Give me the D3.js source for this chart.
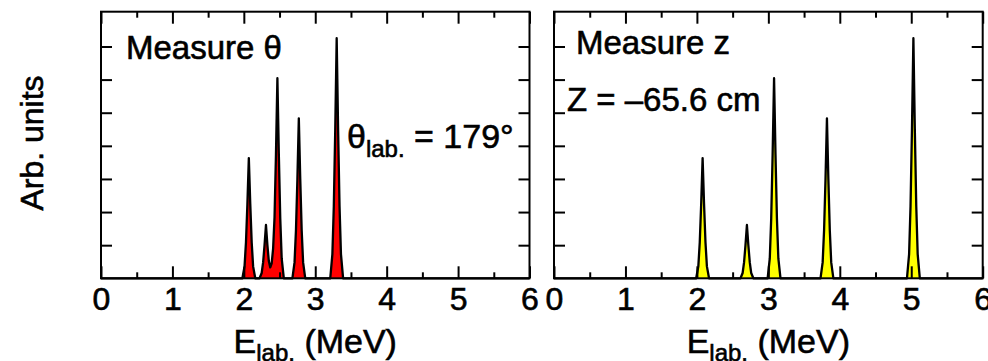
<!DOCTYPE html>
<html>
<head>
<meta charset="utf-8">
<script src="https://cdn.jsdelivr.net/npm/d3@7"></script>
<style>
  html, body { margin: 0; padding: 0; background: #fff; }
  svg { display: block; }
  text { font-family: "Liberation Sans", Arial, Helvetica, sans-serif; fill: #000; stroke: #000; stroke-width: 0.6px; }
</style>
</head>
<body>
<svg id="chart" width="988" height="361"></svg>
<script>
// Energy spectra (arbitrary units) for the two measurement settings
const thetaEnergy = [0.00, 1.98, 2.01, 2.03, 2.05, 2.07, 2.09, 2.11, 2.13, 2.16,
  2.22, 2.25, 2.27, 2.29, 2.31, 2.33, 2.35, 2.37, 2.39, 2.41, 2.43, 2.45, 2.47, 2.49, 2.51, 2.53, 2.56,
  2.68, 2.71, 2.73, 2.75, 2.77, 2.79, 2.81, 2.83, 2.86,
  3.21, 3.24, 3.26, 3.28, 3.30, 3.32, 3.34, 3.36, 3.39, 6.00];
const thetaCounts = [0, 0, 0.36, 1.09, 2.25, 3.63, 2.25, 1.09, 0.36, 0,
  0, 0.16, 0.48, 1.00, 1.61, 1.00, 0.52, 0.33, 0.45, 0.90, 1.85, 3.75, 6.04, 3.75, 1.81, 0.60, 0,
  0, 0.48, 1.45, 3.00, 4.83, 3.00, 1.45, 0.48, 0,
  0, 0.73, 2.18, 4.50, 7.25, 4.50, 2.18, 0.73, 0, 0];

const zEnergy = [0.00, 1.99, 2.02, 2.04, 2.06, 2.08, 2.10, 2.12, 2.14, 2.17,
  2.61, 2.64, 2.66, 2.68, 2.70, 2.72, 2.74, 2.76, 2.79,
  2.99, 3.02, 3.04, 3.06, 3.08, 3.10, 3.12, 3.14, 3.17,
  3.73, 3.76, 3.78, 3.80, 3.82, 3.84, 3.86, 3.88, 3.91,
  4.94, 4.97, 4.99, 5.01, 5.03, 5.05, 5.07, 5.09, 5.12, 6.00];
const zCounts = [0, 0, 0.36, 1.09, 2.25, 3.63, 2.25, 1.09, 0.36, 0,
  0, 0.16, 0.48, 1.00, 1.61, 1.00, 0.48, 0.16, 0,
  0, 0.60, 1.81, 3.75, 6.04, 3.75, 1.81, 0.60, 0,
  0, 0.48, 1.45, 3.00, 4.83, 3.00, 1.45, 0.48, 0,
  0, 0.73, 2.18, 4.50, 7.25, 4.50, 2.18, 0.73, 0, 0];

const xMajorTicks = [0, 1, 2, 3, 4, 5, 6];
const xMinorTicks = [0.5, 1.5, 2.5, 3.5, 4.5, 5.5];
const yTicks = [1, 2, 3, 4, 5, 6, 7];
const xDomain = [0, 6];
const yDomain = [0, 8.05];

const svg = d3.select("#chart");
const plotTop = 11.7, plotBottom = 278.3;

const panels = [
  { x0: 101, x1: 529.5, energy: thetaEnergy, counts: thetaCounts, fill: "#ff0000" },
  { x0: 554, x1: 982.7, energy: zEnergy, counts: zCounts, fill: "#ffff00" }
];

const y = d3.scaleLinear().domain(yDomain).range([plotBottom, plotTop]);

panels.forEach(p => {
  const x = d3.scaleLinear().domain(xDomain).range([p.x0, p.x1]);
  const g = svg.append("g");
  const pts = p.energy.map((e, k) => [e, p.counts[k]]);

  // spectrum fill and outline
  g.append("path")
    .datum(pts)
    .attr("d", d3.area().x(d => x(d[0])).y0(y(0)).y1(d => y(d[1])))
    .attr("fill", p.fill);
  g.append("path")
    .datum(pts)
    .attr("d", d3.line().x(d => x(d[0])).y(d => y(d[1])))
    .attr("fill", "none")
    .attr("stroke", "#000")
    .attr("stroke-width", 2.3)
    .attr("stroke-linejoin", "round");

  const styleAxis = sel => {
    sel.select(".domain").remove();
    sel.selectAll(".tick line").attr("stroke", "#000").attr("stroke-width", 2);
  };

  // bottom axis: major ticks with labels, minor ticks
  g.append("g").attr("transform", `translate(0,${plotBottom})`)
    .call(d3.axisBottom(x).tickValues(xMajorTicks).tickSize(-12).tickPadding(9).tickFormat(d3.format("d")))
    .call(styleAxis)
    .call(s => s.selectAll("text").attr("font-size", 32).attr("font-family", null).attr("fill", null));
  g.append("g").attr("transform", `translate(0,${plotBottom})`)
    .call(d3.axisBottom(x).tickValues(xMinorTicks).tickSize(-6).tickFormat(""))
    .call(styleAxis);
  // top axis
  g.append("g").attr("transform", `translate(0,${plotTop})`)
    .call(d3.axisTop(x).tickValues(xMajorTicks).tickSize(-12).tickFormat(""))
    .call(styleAxis);
  g.append("g").attr("transform", `translate(0,${plotTop})`)
    .call(d3.axisTop(x).tickValues(xMinorTicks).tickSize(-6).tickFormat(""))
    .call(styleAxis);
  // left and right axes
  g.append("g").attr("transform", `translate(${p.x0},0)`)
    .call(d3.axisLeft(y).tickValues(yTicks).tickSize(-11).tickFormat(""))
    .call(styleAxis);
  g.append("g").attr("transform", `translate(${p.x1},0)`)
    .call(d3.axisRight(y).tickValues(yTicks).tickSize(-11).tickFormat(""))
    .call(styleAxis);

  // frame
  g.append("rect")
    .attr("x", p.x0).attr("y", plotTop)
    .attr("width", p.x1 - p.x0).attr("height", plotBottom - plotTop)
    .attr("fill", "none").attr("stroke", "#000").attr("stroke-width", 2);

  // axis title
  const t = g.append("text")
    .attr("x", (p.x0 + p.x1) / 2).attr("y", 353)
    .attr("text-anchor", "middle").attr("font-size", 34);
  t.append("tspan").text("E");
  t.append("tspan").attr("font-size", 24).attr("dy", 8).text("lab.");
  t.append("tspan").attr("dy", -8).text(" (MeV)");
});

// panel annotations
svg.append("text").attr("x", 126).attr("y", 59).attr("font-size", 33).text("Measure θ");
const th = svg.append("text").attr("x", 347).attr("y", 148).attr("font-size", 34);
th.append("tspan").text("θ");
th.append("tspan").attr("font-size", 24).attr("dy", 9).text("lab.");
th.append("tspan").attr("dy", -9).text(" = 179°");

svg.append("text").attr("x", 576).attr("y", 54).attr("font-size", 33).text("Measure z");
svg.append("text").attr("x", 567).attr("y", 111).attr("font-size", 33).text("Z = –65.6 cm");

// shared y-axis title
svg.append("text")
  .attr("transform", "translate(43,143) rotate(-90)")
  .attr("text-anchor", "middle").attr("font-size", 32)
  .text("Arb. units");
</script>
</body>
</html>
